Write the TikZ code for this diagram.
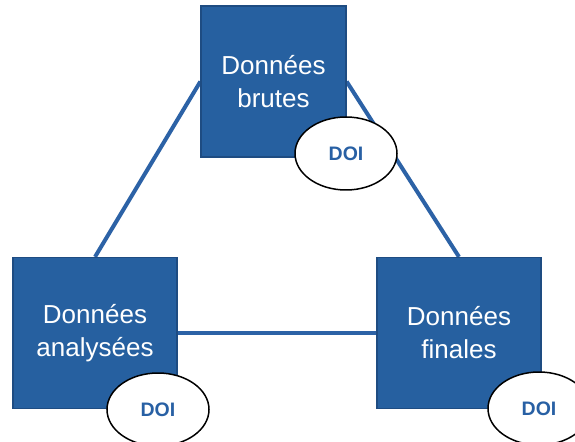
\documentclass[tikz,border=0pt]{standalone}
\usepackage{fontspec}
\setmainfont{Liberation Sans}
\usetikzlibrary{shapes.geometric}
\pgfdeclarelayer{background}
\pgfsetlayers{background,main}
\definecolor{boxfill}{RGB}{38,96,160}
\definecolor{boxedge}{RGB}{30,76,130}
\definecolor{linkblue}{RGB}{44,98,166}
\definecolor{doiblue}{RGB}{40,96,164}
\tikzset{
  databox/.style={rectangle, draw=boxedge, line width=1.2bp, fill=boxfill, minimum height=151bp, inner sep=0pt, align=center, text=white, font=\fontsize{26bp}{33bp}\selectfont},
  doi/.style={ellipse, draw=black, line width=1.5bp, fill=white, minimum width=102bp, minimum height=73bp, inner sep=0pt, text=doiblue, font=\fontsize{19.5bp}{21bp}\selectfont\bfseries},
  link/.style={draw=linkblue, line width=4bp}
}
\begin{document}
\begin{tikzpicture}[x=1bp,y=-1bp]
\begin{pgfonlayer}{background}
\path[fill=white] (0,0) rectangle (575,442);
\end{pgfonlayer}
\useasboundingbox (0,0) rectangle (575,442);
\node[databox, minimum width=145bp] (raw) at (273.5,81.5) {Données\\brutes};
\node[databox, minimum width=164bp] (ana) at (95,333) {Données\\analysées};
\node[databox, minimum width=164bp] (fin) at (459,333) {Données\\finales};
\begin{pgfonlayer}{background}
\path[link] (raw.west) -- (ana.north);
\path[link] (raw.east) -- (fin.north);
\path[link] (ana.east) -- (fin.west);
\end{pgfonlayer}
\node[doi] (doiraw) at (346,153.5) {DOI};
\node[doi] (doiana) at (158,409.5) {DOI};
\node[doi] (doifin) at (539,408.5) {DOI};
\end{tikzpicture}
\end{document}
